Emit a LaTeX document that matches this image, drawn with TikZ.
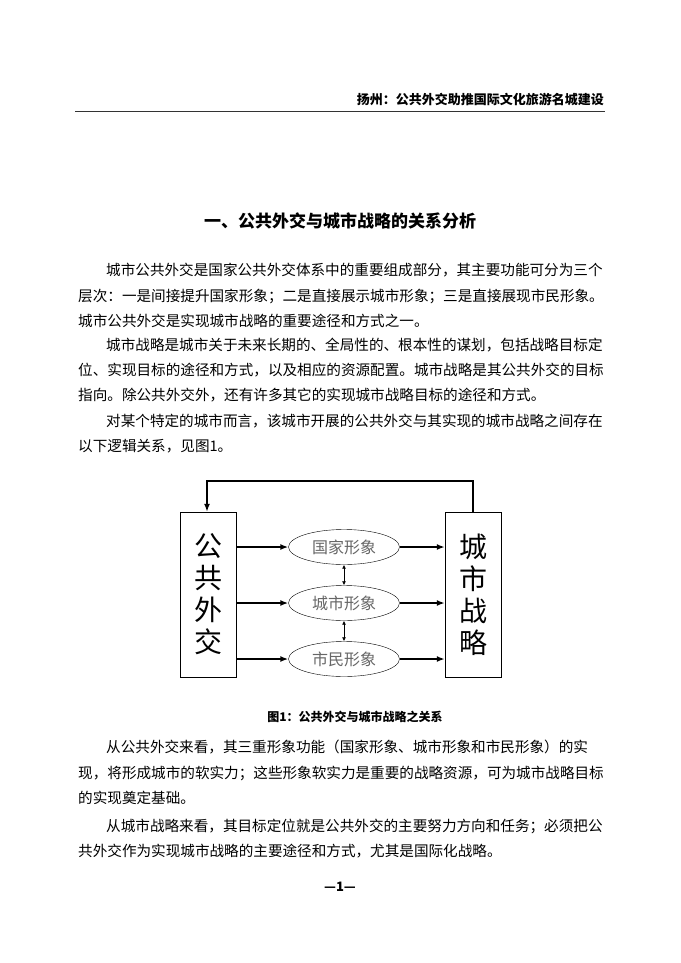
\documentclass[tikz,border=0pt]{standalone}
\usepackage{fontspec}
\setmainfont{Noto Sans CJK SC}
\usetikzlibrary{shapes.geometric,arrows.meta}
\begin{document}
\begin{tikzpicture}[x=1pt,y=-1pt,
  line/.style={anchor=base west,inner sep=0,font=\fontsize{14.6pt}{15pt}\selectfont},
  bx/.style={draw,minimum width=56pt,minimum height=165pt,inner sep=0,align=center,font=\fontsize{28pt}{32pt}\selectfont},
  el/.style={draw,ellipse,minimum width=111pt,minimum height=35pt,inner sep=0,text=black!60,font=\fontsize{16pt}{16pt}\selectfont},
  ar/.style={-{Latex[length=8pt,width=6pt]},line width=1.8pt},
  dar/.style={{Latex[length=4pt,width=4pt]}-{Latex[length=4pt,width=4pt]},line width=0.9pt}]
\useasboundingbox[fill=white] (0,0) rectangle (680,963);
\node[anchor=base east,inner sep=0,font=\fontsize{13pt}{13pt}\selectfont\bfseries] (hdr) at (604,105) {扬州：公共外交助推国际文化旅游名城建设};
\draw[line width=1pt,black!80] (75,112) -- (605,112);
\node[anchor=base,inner sep=0,font=\fontsize{17pt}{17pt}\selectfont\bfseries] (ttl) at (340,227) {一、公共外交与城市战略的关系分析};
\node[line] (l1) at (106,275) {城市公共外交是国家公共外交体系中的重要组成部分，其主要功能可分为三个};
\node[line] (l2) at (78,301) {层次：一是间接提升国家形象；二是直接展示城市形象；三是直接展现市民形象。};
\node[line] (l3) at (78,326) {城市公共外交是实现城市战略的重要途径和方式之一。};
\node[line] (l4) at (106,350) {城市战略是城市关于未来长期的、全局性的、根本性的谋划，包括战略目标定};
\node[line] (l5) at (78,375) {位、实现目标的途径和方式，以及相应的资源配置。城市战略是其公共外交的目标};
\node[line] (l6) at (78,400) {指向。除公共外交外，还有许多其它的实现城市战略目标的途径和方式。};
\node[line] (l7) at (106,426) {对某个特定的城市而言，该城市开展的公共外交与其实现的城市战略之间存在};
\node[line] (l8) at (78,451) {以下逻辑关系，见图1。};
% diagram
\node[bx] (L) at (208,594.5) {公\\共\\外\\交};
\node[bx] (R) at (473,594.5) {城\\市\\战\\略};
\node[el] (e1) at (344,547) {国家形象};
\node[el] (e2) at (344,603) {城市形象};
\node[el] (e3) at (344,659) {市民形象};
\foreach \e in {e1,e2,e3}{
  \draw[ar] (L.east |- \e) -- (\e.west);
  \draw[ar] (\e.east) -- (R.west |- \e);}
\draw[dar] (e1.south) -- (e2.north);
\draw[dar] (e2.south) -- (e3.north);
\coordinate (t1) at (473,481);
\coordinate (t2) at (207,481);
\draw[ar,line width=1.5pt] (R.north) -- (t1) -- (t2) -- (L.north -| t2);
\node[anchor=base,inner sep=0,font=\fontsize{12pt}{12pt}\selectfont\bfseries] (cap) at (355,721) {图1：公共外交与城市战略之关系};
\node[line] (l9) at (106,752) {从公共外交来看，其三重形象功能（国家形象、城市形象和市民形象）的实};
\node[line] (l10) at (78,778) {现，将形成城市的软实力；这些形象软实力是重要的战略资源，可为城市战略目标};
\node[line] (l11) at (78,803) {的实现奠定基础。};
\node[line] (l12) at (106,831) {从城市战略来看，其目标定位就是公共外交的主要努力方向和任务；必须把公};
\node[line] (l13) at (78,856) {共外交作为实现城市战略的主要途径和方式，尤其是国际化战略。};
\node[anchor=base,inner sep=0,font=\fontsize{13pt}{13pt}\selectfont\bfseries] (pg) at (340,891) {—1—};
\end{tikzpicture}
\end{document}
